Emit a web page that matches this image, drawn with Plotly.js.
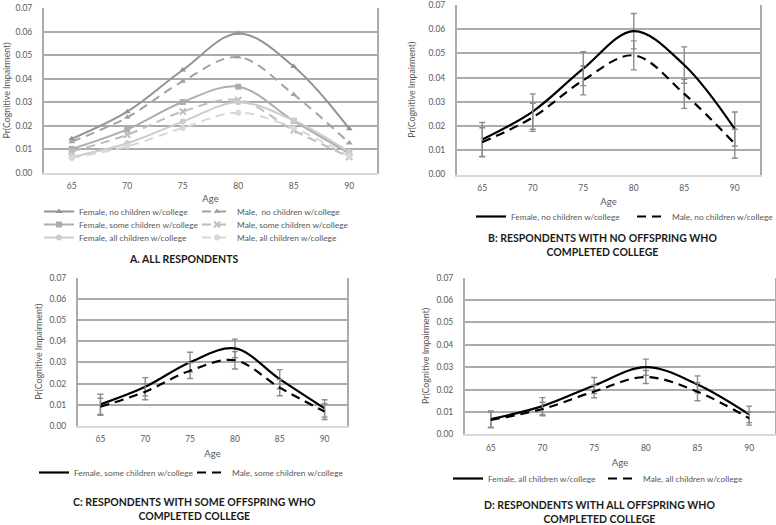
<!DOCTYPE html>
<html>
<head>
<meta charset="utf-8">
<script src="https://cdn.plot.ly/plotly-3.0.1.min.js"></script>
<style>html,body{margin:0;padding:0;background:#fff;}#chart{width:776px;height:525px;}</style>
</head>
<body>
<div id="chart"></div>
<script>
// ---- data ----
var ages = [65, 70, 75, 80, 85, 90];
var yTicks = [0, 0.01, 0.02, 0.03, 0.04, 0.05, 0.06, 0.07];

var femaleNo   = [0.0145, 0.0260, 0.0437, 0.0592, 0.0452, 0.0188];
var maleNo     = [0.0133, 0.0236, 0.0389, 0.0492, 0.0333, 0.0127];
var femaleSome = [0.0102, 0.0185, 0.0301, 0.0366, 0.0221, 0.0083];
var maleSome   = [0.0091, 0.0162, 0.0261, 0.0310, 0.0181, 0.0068];
var femaleAll  = [0.0068, 0.0126, 0.0218, 0.0300, 0.0223, 0.0089];
var maleAll    = [0.0064, 0.0113, 0.0191, 0.0256, 0.0190, 0.0071];

var femaleNoErr   = [0.0070, 0.0073, 0.0070, 0.0073, 0.0075, 0.0070];
var maleNoErr     = [0.0060, 0.0058, 0.0060, 0.0060, 0.0060, 0.0060];
var femaleSomeErr = [0.0048, 0.0043, 0.0047, 0.0044, 0.0045, 0.0041];
var maleSomeErr   = [0.0040, 0.0038, 0.0037, 0.0041, 0.0038, 0.0037];
var femaleAllErr  = [0.0036, 0.0038, 0.0036, 0.0036, 0.0038, 0.0037];
var maleAllErr    = [0.0035, 0.0030, 0.0028, 0.0029, 0.0040, 0.0030];

var namesA = ['Female, no children w/college', 'Male,  no children w/college',
              'Female, some children w/college', 'Male, some children w/college',
              'Female, all children w/college', 'Male, all children w/college'];
var titleA = 'A. ALL RESPONDENTS';
var titleB = 'B: RESPONDENTS WITH NO OFFSPRING WHO<br>COMPLETED COLLEGE';
var titleC = 'C: RESPONDENTS WITH SOME OFFSPRING WHO<br>COMPLETED COLLEGE';
var titleD = 'D: RESPONDENTS WITH ALL OFFSPRING WHO<br>COMPLETED COLLEGE';
var xTitle = 'Age';
var yTitle = 'Pr(Cognitive Impairment)';

// ---- layout helpers ----
var W = 776, H = 525;
function px(x) { return x / W; }
function py(y) { return 1 - y / H; }
var FONT = 'Lato, "Open Sans", sans-serif';
var TXT = '#595959';
var GRID = '#ababab';
var DASH = '9px,6px';
var ERRC = '#8c8c8c';

function lineTrace(y, name, color, dash, width, xa, ya, leg, marker, err) {
  var t = {
    type: 'scatter', mode: marker ? 'lines+markers' : 'lines',
    x: ages, y: y, name: name, xaxis: xa, yaxis: ya, legend: leg,
    line: {color: color, width: width, dash: dash, shape: 'spline', smoothing: 1},
    hoverinfo: 'x+y'
  };
  if (marker) t.marker = {symbol: marker, size: 6, color: color};
  if (err) t.error_y = {type: 'data', array: err, visible: true, color: ERRC, thickness: 1.4, width: 3};
  return t;
}

var cA = ['#939393', '#a3a3a3', '#adadad', '#bdbdbd', '#cccccc', '#d8d8d8'];
var data = [
  lineTrace(femaleNo, namesA[0], cA[0], 'solid', 2, 'x', 'y', 'legend', 'triangle-up'),
  lineTrace(maleNo, namesA[1], cA[1], DASH, 2, 'x', 'y', 'legend2', 'triangle-up'),
  lineTrace(femaleSome, namesA[2], cA[2], 'solid', 2, 'x', 'y', 'legend3', 'square'),
  lineTrace(maleSome, namesA[3], cA[3], DASH, 2, 'x', 'y', 'legend4', 'x-thin-open'),
  lineTrace(femaleAll, namesA[4], cA[4], 'solid', 2, 'x', 'y', 'legend5', 'circle'),
  lineTrace(maleAll, namesA[5], cA[5], DASH, 2, 'x', 'y', 'legend6', 'circle'),

  lineTrace(femaleNo, 'Female, no children w/college', '#000', 'solid', 2.2, 'x2', 'y2', 'legend7', null, femaleNoErr),
  lineTrace(maleNo, 'Male, no children w/college', '#000', DASH, 2.2, 'x2', 'y2', 'legend8', null, maleNoErr),

  lineTrace(femaleSome, 'Female, some children w/college', '#000', 'solid', 2.2, 'x3', 'y3', 'legend9', null, femaleSomeErr),
  lineTrace(maleSome, 'Male, some children w/college', '#000', DASH, 2.2, 'x3', 'y3', 'legend10', null, maleSomeErr),

  lineTrace(femaleAll, 'Female, all children w/college', '#000', 'solid', 2.2, 'x4', 'y4', 'legend11', null, femaleAllErr),
  lineTrace(maleAll, 'Male, all children w/college', '#000', DASH, 2.2, 'x4', 'y4', 'legend12', null, maleAllErr)
];
data[3].marker.line = {color: cA[3], width: 2};

function xAxis(domain, anchor, standoff) {
  return {
    domain: domain, anchor: anchor, range: [62.5, 92.5],
    tickmode: 'array', tickvals: ages, ticktext: ages.map(String),
    showgrid: false, zeroline: false, ticks: '', ticklabelstandoff: 4,
    ticklabeloverflow: 'allow',
    showline: true, linecolor: '#d9d9d9', linewidth: 2,
    tickfont: {family: FONT, size: 8.5, color: TXT},
    title: {text: xTitle, font: {family: FONT, size: 9.5, color: TXT}, standoff: standoff},
    fixedrange: true
  };
}
function yAxis(domain, anchor, standoff) {
  return {
    domain: domain, anchor: anchor, range: [0, 0.07],
    tickmode: 'array', tickvals: yTicks, tickformat: '.2f',
    showgrid: true, gridcolor: GRID, gridwidth: 2, zeroline: false, ticks: '',
    ticklabelstandoff: 8, ticklabeloverflow: 'allow',
    showline: true, mirror: true, linecolor: GRID, linewidth: 2,
    tickfont: {family: FONT, size: 8.5, color: TXT},
    title: {text: yTitle, font: {family: FONT, size: 8.8, color: TXT}, standoff: standoff},
    fixedrange: true
  };
}
// one legend per entry: (text start x, row centre y) from the reference
function legend(textX, rowY) {
  return {
    x: px(textX - 39), y: py(rowY - 14), xanchor: 'left', yanchor: 'top',
    orientation: 'v', bgcolor: 'rgba(0,0,0,0)', borderwidth: 0,
    font: {family: FONT, size: 8.4, color: TXT}, itemwidth: 30
  };
}
function title(text, x, y) {
  return {text: '<b>' + text + '</b>', x: px(x), y: py(y), xref: 'paper', yref: 'paper',
          xanchor: 'center', yanchor: 'middle', showarrow: false, align: 'center',
          font: {family: FONT, size: 10.5, color: '#1a1a1a'}};
}

var layout = {
  width: W, height: H,
  margin: {l: 0, r: 0, t: 0, b: 0, autoexpand: false},
  paper_bgcolor: '#fff', plot_bgcolor: '#fff',
  font: {family: FONT},
  showlegend: true,
  xaxis:  xAxis([px(44), px(377)], 'y', 5),
  yaxis:  yAxis([py(173), py(8)], 'x', 3),
  xaxis2: xAxis([px(457), px(760)], 'y2', 7),
  yaxis2: yAxis([py(174.5), py(5)], 'x2', 11),
  xaxis3: xAxis([px(78), px(347)], 'y3', 7),
  yaxis3: yAxis([py(426), py(277.6)], 'x3', 5),
  xaxis4: xAxis([px(465), px(775)], 'y4', 8),
  yaxis4: yAxis([py(434.3), py(277.6)], 'x4', 5),
  legend:   legend(78, 211),
  legend2:  legend(236, 211),
  legend3:  legend(78, 224),
  legend4:  legend(236, 224),
  legend5:  legend(78, 237),
  legend6:  legend(236, 237),
  legend7:  legend(510, 216),
  legend8:  legend(671, 216),
  legend9:  legend(73, 472),
  legend10: legend(231, 472),
  legend11: legend(487, 478),
  legend12: legend(642, 478),
  annotations: [
    title(titleA, 183, 259),
    title(titleB, 602, 245),
    title(titleC, 194, 509),
    title(titleD, 599, 511.5)
  ]
};

Plotly.newPlot('chart', data, layout, {displayModeBar: false});
</script>
</body>
</html>
